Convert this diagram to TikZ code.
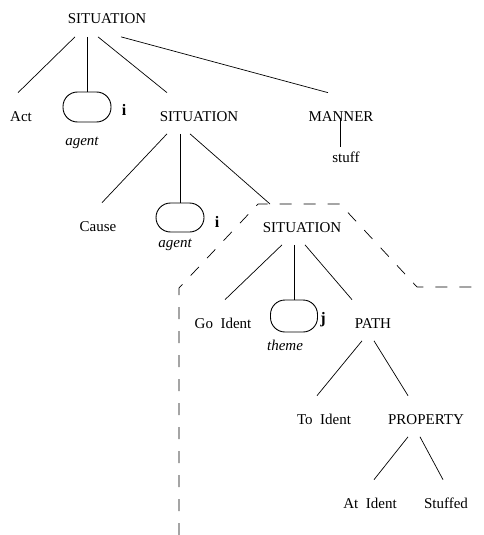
\documentclass[tikz,border=0pt]{standalone}
\usepackage{fontspec}
\setmainfont{Liberation Serif}
\usepackage{tikz}

\begin{document}
\begin{tikzpicture}[x=1pt,y=-1pt,every node/.style={font=\fontsize{15}{18}\selectfont},line width=0.7pt]
\tikzset{lab/.style={inner sep=0pt,anchor=base,text height=28pt,text depth=12.5pt}}
\tikzset{role/.style={inner sep=0pt,anchor=base,font=\fontsize{15}{18}\selectfont\itshape}}
\tikzset{idx/.style={inner sep=0pt,anchor=base,font=\fontsize{16}{18}\selectfont\bfseries}}
\tikzset{slot/.style={draw,line width=0.9pt,rounded corners=14.5pt,minimum width=48pt,minimum height=30pt,inner sep=0pt}}
\useasboundingbox (0,0) rectangle (483,535);

% ---------- upper tree ----------
\node[lab] (S1) at (107,24) {SITUATION};
\node[lab] (Act) at (21,121) {Act};
\node[slot] (G1) at (87,107) {};
\node[idx] (I1) at (124,115) {i};
\node[role] (R1) at (82,145) {agent};
\node[lab] (S2) at (199,121) {SITUATION};
\node[lab] (Man) at (341,121) {MANNER};
\node[lab] (Stf) at (346,162) {stuff};

\draw ([xshift=-32pt]S1.south) -- ([xshift=-3pt]Act.north);
\draw ([xshift=-20pt]S1.south) -- (G1.north);
\draw ([xshift=-9pt]S1.south) -- ([xshift=-32pt]S2.north);
\draw ([xshift=14pt]S1.south) -- ([xshift=-13pt]Man.north);
\draw ([xshift=-1pt,yshift=3pt]Man.base) -- ([xshift=-6pt,yshift=15pt]Stf.base);

% ---------- middle ----------
\node[lab] (Cau) at (98,231) {Cause};
\node[slot,minimum height=29pt] (G2) at (180,217.5) {};
\node[idx] (I2) at (217,227) {i};
\node[role] (R2) at (175,247) {agent};
\coordinate (hook) at (270,204);

\draw ([xshift=-32pt]S2.south) -- ([xshift=4pt]Cau.north);
\draw ([xshift=-19pt]S2.south) -- (G2.north);
\draw ([xshift=-9pt]S2.south) -- (hook);

% ---------- embedded situation ----------
\draw[dash pattern=on 12pt off 12pt] (179,535) -- (179,288) -- (258,204) -- (340,204) -- (417,287) -- (478,287);

\node[lab] (S3) at (302,232) {SITUATION};
\node[lab] (Go) at (223,328) {Go~~Ident};
\node[slot,minimum width=47pt,minimum height=32pt] (G3) at (294,316) {};
\node[idx] (J) at (323,323) {j};
\node[role] (R3) at (285,350) {theme};
\node[lab] (Pth) at (373,328) {PATH};

\draw ([xshift=-20pt]S3.south) -- ([xshift=2pt]Go.north);
\draw ([xshift=-8pt]S3.south) -- (G3.north);
\draw ([xshift=3pt]S3.south) -- ([xshift=-21pt]Pth.north);

\node[lab] (To) at (324,424) {To~~Ident};
\node[lab] (Prp) at (426,424) {PROPERTY};

\draw ([xshift=-11pt]Pth.south) -- ([xshift=-7pt]To.north);
\draw ([xshift=1pt]Pth.south) -- ([xshift=-18pt]Prp.north);

\node[lab] (At) at (370,508) {At~~Ident};
\node[lab] (Sfd) at (446,508) {Stuffed};

\draw ([xshift=-18pt]Prp.south) -- ([xshift=4pt]At.north);
\draw ([xshift=-6pt]Prp.south) -- ([xshift=-3pt]Sfd.north);

\end{tikzpicture}
\end{document}
